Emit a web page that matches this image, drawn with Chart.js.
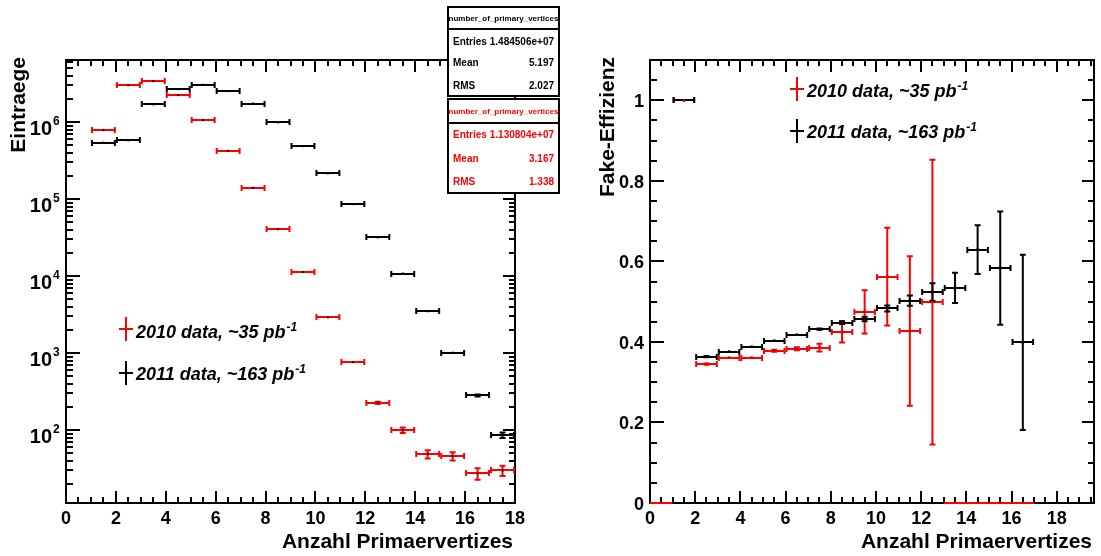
<!DOCTYPE html>
<html>
<head>
<meta charset="utf-8">
<script src="https://cdn.jsdelivr.net/npm/chart.js@4.4.1/dist/chart.umd.min.js"></script>
<style>
  body { margin: 0; background: #fff; }
  canvas { position: absolute; top: 0; }
  #left { left: 0; }
  #right { left: 580px; }
</style>
</head>
<body>
<canvas id="left" width="580" height="556"></canvas>
<canvas id="right" width="521" height="556"></canvas>
<script>
// bin centres, Eintraege pro Bin
const bins = [1.5, 2.5, 3.5, 4.5, 5.5, 6.5, 7.5, 8.5, 9.5, 10.5, 11.5, 12.5, 13.5, 14.5, 15.5, 16.5, 17.5];
const counts2010 = [7.9e5, 3.0e6, 3.4e6, 2.24e6, 1.06e6, 4.24e5, 1.40e5, 4.07e4, 1.13e4, 2910, 764, 226, 100, 49, 46, 27.4, 30];
const errs2010 = [0, 0, 0, 0, 0, 0, 0, 0, 0, 0, 28, 15, 11, 7.5, 7, 5.5, 5.5];
const counts2011 = [5.4e5, 5.8e5, 1.70e6, 2.68e6, 3.05e6, 2.53e6, 1.74e6, 9.9e5, 4.88e5, 2.16e5, 8.6e4, 3.18e4, 1.08e4, 3500, 1010, 282, 86];
const errs2011 = [0, 0, 0, 0, 0, 0, 0, 0, 0, 0, 0, 0, 0, 0, 0, 17, 9.5];

// Fake-Effizienz
const effBins2010 = [0.5, 1.5, 2.5, 3.5, 4.5, 5.5, 6.5, 7.5, 8.5, 9.5, 10.5, 11.5, 12.5, 13.5, 14.5, 15.5, 16.5];
const eff2010 = [0, 1.0, 0.345, 0.361, 0.361, 0.378, 0.383, 0.386, 0.425, 0.4745, 0.562, 0.427, 0.499, 0, 0, 0, 0];
const effErr2010 = [0, 0, 0.004, 0.003, 0.003, 0.005, 0.006, 0.012, 0.029, 0.056, 0.124, 0.188, 0.356, 0, 0, 0, 0];
const effBins2011 = [1.5, 2.5, 3.5, 4.5, 5.5, 6.5, 7.5, 8.5, 9.5, 10.5, 11.5, 12.5, 13.5, 14.5, 15.5, 16.5];
const eff2011 = [1.0, 0.3635, 0.376, 0.388, 0.403, 0.418, 0.4315, 0.448, 0.457, 0.483, 0.5026, 0.524, 0.534, 0.629, 0.583, 0.399];
const effErr2011 = [0, 0.004, 0.003, 0.003, 0.003, 0.003, 0.004, 0.006, 0.008, 0.01, 0.015, 0.024, 0.04, 0.063, 0.143, 0.22];

// ticks
const xTicks = [0, 2, 4, 6, 8, 10, 12, 14, 16, 18];
const logTicks = [1e2, 1e3, 1e4, 1e5, 1e6];
const logTickExp = ['2', '3', '4', '5', '6'];
const effTicks = [0, 0.2, 0.4, 0.6, 0.8, 1];
const effTickLabels = ['0', '0.2', '0.4', '0.6', '0.8', '1'];

const legendLabels = ['2010 data, ~35 pb', '2011 data, ~163 pb'];
const statTitle = 'number_of_primary_vertices';
const stats2011 = [['Entries', '1.484506e+07'], ['Mean', '5.197'], ['RMS', '2.027']];
const stats2010 = [['Entries', '1.130804e+07'], ['Mean', '3.167'], ['RMS', '1.338']];

const RED = '#ff0000', BLACK = '#000000';
const FONT = '"Liberation Sans", Arial, Helvetica, sans-serif';
Chart.defaults.font.family = FONT;

function points(xs, ys, es) {
    return xs.map((x, i) => ({ x: x, y: ys[i], e: es[i] }));
}

// Fehlerbalken im ROOT-Stil (Binbreite + Fehler)
const errorBars = {
    id: 'errorBars',
    beforeDatasetsDraw(chart) {
        const { ctx, chartArea: a } = chart;
        const x = chart.scales.x, y = chart.scales.y;
        ctx.save();
        ctx.beginPath();
        ctx.rect(a.left, a.top, a.right - a.left, a.bottom - a.top + 2);
        ctx.clip();
        ctx.lineWidth = 2;
        chart.data.datasets.forEach(ds => {
            ctx.strokeStyle = ds.borderColor;
            ds.data.forEach(p => {
                const py = Math.round(y.getPixelForValue(p.y));
                const x0 = x.getPixelForValue(p.x - 0.5), x1 = x.getPixelForValue(p.x + 0.5);
                const px = x.getPixelForValue(p.x);
                ctx.beginPath();
                ctx.moveTo(x0, py); ctx.lineTo(x1, py);
                if (p.y > 0) {
                    ctx.moveTo(x0 + 1, py - 3); ctx.lineTo(x0 + 1, py + 3);
                    ctx.moveTo(x1 - 1, py - 3); ctx.lineTo(x1 - 1, py + 3);
                }
                if (p.e > 0) {
                    const top = y.getPixelForValue(p.y + p.e), bot = y.getPixelForValue(p.y - p.e);
                    if (bot - top > 3) {
                        ctx.moveTo(px, top); ctx.lineTo(px, bot);
                        ctx.moveTo(px - 3, top + 1); ctx.lineTo(px + 3, top + 1);
                        ctx.moveTo(px - 3, bot - 1); ctx.lineTo(px + 3, bot - 1);
                    }
                }
                ctx.stroke();
            });
        });
        ctx.restore();
    }
};

function drawFrame(chart, yMinor, yMajor, xMax) {
    const { ctx, chartArea: a } = chart;
    const x = chart.scales.x, y = chart.scales.y;
    ctx.save();
    ctx.strokeStyle = BLACK;
    ctx.lineWidth = 2;
    ctx.strokeRect(a.left, a.top, a.right - a.left, a.bottom - a.top);
    ctx.beginPath();
    for (let v = 0; v <= xMax + 1e-9; v += 0.5) {
        const px = Math.round(x.getPixelForValue(v));
        const len = (v % 2 === 0) ? 12 : 6;
        ctx.moveTo(px, a.bottom); ctx.lineTo(px, a.bottom - len);
        ctx.moveTo(px, a.top); ctx.lineTo(px, a.top + len);
    }
    yMinor.forEach(v => {
        const py = Math.round(y.getPixelForValue(v));
        ctx.moveTo(a.left, py); ctx.lineTo(a.left + 7, py);
        ctx.moveTo(a.right, py); ctx.lineTo(a.right - 6, py);
    });
    yMajor.forEach(v => {
        const py = Math.round(y.getPixelForValue(v));
        ctx.moveTo(a.left, py); ctx.lineTo(a.left + 14, py);
        ctx.moveTo(a.right, py); ctx.lineTo(a.right - 12, py);
    });
    ctx.stroke();

    ctx.fillStyle = BLACK;
    ctx.font = 'bold 18px ' + FONT;
    ctx.textAlign = 'center';
    ctx.textBaseline = 'alphabetic';
    xTicks.forEach(v => {
        ctx.fillText(String(v), x.getPixelForValue(v), 524);
    });
    ctx.restore();
}

function drawTitles(ctx, yTitle, yTitleX, xTitleRight) {
    ctx.save();
    ctx.fillStyle = BLACK;
    ctx.font = 'bold 21px ' + FONT;
    ctx.textAlign = 'right';
    ctx.textBaseline = 'alphabetic';
    ctx.fillText('Anzahl Primaervertizes', xTitleRight, 548);
    ctx.translate(yTitleX, 57);
    ctx.rotate(-Math.PI / 2);
    ctx.fillText(yTitle, 0, 0);
    ctx.restore();
}

function drawLegend(ctx, cx, cy, tx, ty, color, label) {
    ctx.save();
    ctx.strokeStyle = color;
    ctx.lineWidth = 2;
    ctx.beginPath();
    ctx.moveTo(cx, cy - 12); ctx.lineTo(cx, cy + 12);
    ctx.moveTo(cx - 7, cy); ctx.lineTo(cx + 7, cy);
    ctx.stroke();
    ctx.fillStyle = BLACK;
    ctx.textAlign = 'left';
    ctx.textBaseline = 'alphabetic';
    ctx.font = 'italic bold 18px ' + FONT;
    ctx.fillText(label, tx, ty);
    const w = ctx.measureText(label).width;
    ctx.font = 'italic bold 12px ' + FONT;
    ctx.fillText('-1', tx + w + 1, ty - 7);
    ctx.restore();
}

function drawStatBox(ctx, box, color, rows) {
    const l = 448, r = 559;
    ctx.save();
    ctx.fillStyle = '#fff';
    ctx.fillRect(l, box.top, r - l, box.bottom - box.top);
    ctx.strokeStyle = BLACK;
    ctx.lineWidth = 2;
    ctx.strokeRect(l, box.top, r - l, box.bottom - box.top);
    ctx.beginPath();
    ctx.moveTo(l, box.sep); ctx.lineTo(r, box.sep);
    ctx.stroke();
    ctx.fillStyle = color;
    ctx.textBaseline = 'middle';
    ctx.font = 'bold 8px ' + FONT;
    ctx.textAlign = 'center';
    ctx.fillText(statTitle, (l + r) / 2, (box.top + box.sep) / 2 + 1);
    ctx.font = 'bold 10px ' + FONT;
    rows.forEach((row, i) => {
        ctx.textAlign = 'left';
        ctx.fillText(row[0], 453, box.rows[i]);
        ctx.textAlign = 'right';
        ctx.fillText(row[1], 554, box.rows[i]);
    });
    ctx.restore();
}

const logMinor = [];
[10, 100, 1e3, 1e4, 1e5, 1e6].forEach(d => {
    for (let k = 2; k <= 9; k++) logMinor.push(k * d);
});

const leftDecor = {
    id: 'leftDecor',
    beforeDatasetsDraw(chart) {
        drawFrame(chart, logMinor.filter(v => v > 11.3 && v < 6.4e6), logTicks, 18);
    },
    afterDraw(chart) {
        const ctx = chart.ctx, y = chart.scales.y;
        ctx.save();
        ctx.fillStyle = BLACK;
        ctx.textBaseline = 'alphabetic';
        logTicks.forEach((v, i) => {
            const py = y.getPixelForValue(v);
            ctx.font = 'bold 20px ' + FONT;
            ctx.textAlign = 'right';
            ctx.fillText('10', 52, py + 13);
            ctx.font = 'bold 12px ' + FONT;
            ctx.textAlign = 'left';
            ctx.fillText(logTickExp[i], 53, py + 3);
        });
        ctx.restore();
        drawTitles(ctx, 'Eintraege', 25, 513);
        drawLegend(ctx, 126, 329, 136, 338, RED, legendLabels[0]);
        drawLegend(ctx, 126, 373, 136, 380, BLACK, legendLabels[1]);
        drawStatBox(ctx, { top: 7, sep: 29, rows: [42, 63, 86], bottom: 96 }, BLACK, stats2011);
        drawStatBox(ctx, { top: 99, sep: 123, rows: [135, 159, 182], bottom: 193 }, RED, stats2010);
    }
};

const effMinor = [];
for (let k = 0; k <= 22; k++) if (k % 4 !== 0) effMinor.push(k * 0.05);

const rightDecor = {
    id: 'rightDecor',
    beforeDatasetsDraw(chart) {
        drawFrame(chart, effMinor, effTicks, 19.65);
    },
    afterDraw(chart) {
        const ctx = chart.ctx, y = chart.scales.y;
        ctx.save();
        ctx.fillStyle = BLACK;
        ctx.font = 'bold 18px ' + FONT;
        ctx.textAlign = 'right';
        ctx.textBaseline = 'middle';
        effTicks.forEach((v, i) => {
            ctx.fillText(effTickLabels[i], 64, y.getPixelForValue(v) + 2);
        });
        ctx.restore();
        drawTitles(ctx, 'Fake-Effizienz', 34, 512);
        drawLegend(ctx, 217, 89, 227, 97, RED, legendLabels[0]);
        drawLegend(ctx, 217, 131, 227, 138, BLACK, legendLabels[1]);
    }
};

function hiddenAxis(extra) {
    return Object.assign({
        display: true,
        grid: { display: false },
        border: { display: false },
        ticks: { display: false },
    }, extra);
}

const commonOpts = {
    responsive: false,
    animation: false,
    devicePixelRatio: 1,
    plugins: { legend: { display: false }, tooltip: { enabled: false } },
};

new Chart(document.getElementById('left'), {
    type: 'scatter',
    data: {
        datasets: [
            { label: '2010', data: points(bins, counts2010, errs2010), borderColor: RED, backgroundColor: '#300', pointStyle: 'rect', pointRadius: 1.5, pointBorderWidth: 0 },
            { label: '2011', data: points(bins, counts2011, errs2011), borderColor: BLACK, backgroundColor: BLACK, pointStyle: 'rect', pointRadius: 1.5, pointBorderWidth: 0 },
        ]
    },
    options: Object.assign({}, commonOpts, {
        layout: { padding: { top: 60, right: 65, left: 0, bottom: 0 } },
        scales: {
            x: hiddenAxis({ type: 'linear', min: 0, max: 18, afterFit: s => { s.height = 53; } }),
            y: hiddenAxis({ type: 'logarithmic', min: 11.3, max: 6.4e6, afterFit: s => { s.width = 66; } }),
        },
    }),
    plugins: [leftDecor, errorBars],
});

new Chart(document.getElementById('right'), {
    type: 'scatter',
    data: {
        datasets: [
            { label: '2010', data: points(effBins2010, eff2010, effErr2010), borderColor: RED, backgroundColor: '#d00', pointStyle: 'rect', pointRadius: 1.8, pointBorderWidth: 0 },
            { label: '2011', data: points(effBins2011, eff2011, effErr2011), borderColor: BLACK, backgroundColor: BLACK, pointStyle: 'rect', pointRadius: 1.8, pointBorderWidth: 0 },
        ]
    },
    options: Object.assign({}, commonOpts, {
        layout: { padding: { top: 60, right: 7, left: 0, bottom: 0 } },
        scales: {
            x: hiddenAxis({ type: 'linear', min: 0, max: 19.65, afterFit: s => { s.height = 53; } }),
            y: hiddenAxis({ type: 'linear', min: 0, max: 1.1, afterFit: s => { s.width = 70; } }),
        },
    }),
    plugins: [rightDecor, errorBars],
});
</script>
</body>
</html>
